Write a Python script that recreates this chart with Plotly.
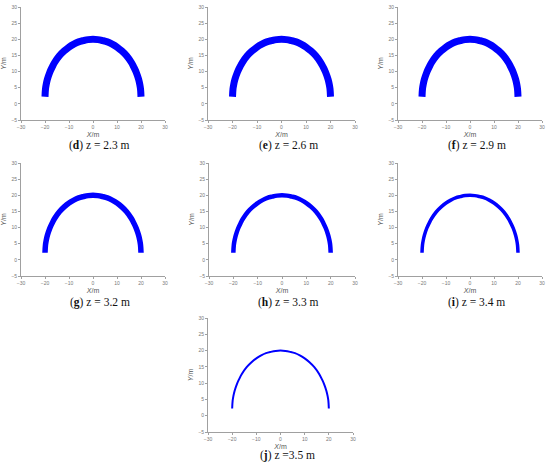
import plotly.graph_objects as go

# ---- data ----
arc_x = [-20.0, -19.8, -19.5, -19.0, -18.0, -17.0, -16.0, -14.0, -12.0, -10.0, -8.0, -6.0, -4.0, -2.0, 0.0,
         2.0, 4.0, 6.0, 8.0, 10.0, 12.0, 14.0, 16.0, 17.0, 18.0, 19.0, 19.5, 19.8, 20.0]
arc_y = [2.2, 4.6, 6.0, 7.6, 9.8, 11.4, 12.8, 14.9, 16.4, 17.6, 18.5, 19.2, 19.6, 19.9, 20.0,
         19.9, 19.6, 19.2, 18.5, 17.6, 16.4, 14.9, 12.8, 11.4, 9.8, 7.6, 6.0, 4.6, 2.2]
panel_letters = ["d", "e", "f", "g", "h", "i", "j"]
panel_z = ["= 2.3 m", "= 2.6 m", "= 2.9 m", "= 3.2 m", "= 3.3 m", "= 3.4 m", "=3.5 m"]
band_width_px = [7, 7, 7, 5.5, 4.5, 3.5, 2]
x_ticks = [-30, -20, -10, 0, 10, 20, 30]
y_ticks = [-5, 0, 5, 10, 15, 20, 25, 30]

# ---- layout (pixel boxes of each panel: left, right, top, bottom) ----
W, H = 550, 467
boxes = [(21, 165, 7, 120), (208, 355, 7, 120), (398, 542, 7, 120),
         (21, 165, 163, 276), (209, 355, 163, 276), (398, 542, 163, 276),
         (208, 353, 318, 432)]
caption_y = [145, 145, 145, 302, 302, 302, 455]

fig = go.Figure()
axis_color = "#a0a0a0"
tick_font = dict(family="Liberation Sans, Arial", size=5, color="#777777")
title_font = dict(family="Liberation Sans, Arial", size=7, color="#555555")

for i, (l, r, t, b) in enumerate(boxes):
    k = "" if i == 0 else str(i + 1)
    fig.add_trace(go.Scatter(x=arc_x, y=arc_y, mode="lines",
                             line=dict(color="#0000ff", width=band_width_px[i], shape="spline"),
                             xaxis="x" + k, yaxis="y" + k, showlegend=False, hoverinfo="skip"))
    common = dict(showline=True, linecolor=axis_color, linewidth=0.8, showgrid=False, zeroline=False,
                  ticks="outside", ticklen=2, tickcolor=axis_color, tickwidth=0.6,
                  tickfont=tick_font, automargin=False)
    fig.layout["xaxis" + k] = dict(common, domain=[l / W, r / W], range=[-30, 30],
                                   tickvals=x_ticks, anchor="y" + k,
                                   title=dict(text="<i>X</i>/m", font=title_font, standoff=3))
    fig.layout["yaxis" + k] = dict(common, domain=[1 - b / H, 1 - t / H], range=[-5, 30],
                                   tickvals=y_ticks, anchor="x" + k,
                                   title=dict(text="<i>Y</i>/m", font=title_font, standoff=3))
    fig.add_annotation(x=(l + r) / 2 / W + 0.012, y=1 - caption_y[i] / H, xref="paper", yref="paper",
                       text="(<b>%s</b>) z %s" % (panel_letters[i], panel_z[i]), showarrow=False,
                       font=dict(family="Liberation Serif, Times New Roman", size=11.5, color="#111111"),
                       xanchor="center", yanchor="middle")

fig.update_layout(width=W, height=H, margin=dict(l=0, r=0, t=0, b=0),
                  plot_bgcolor="white", paper_bgcolor="white")
fig.write_html("out.html", config={"displayModeBar": False},
               post_script="document.body.style.margin='0';document.body.style.overflow='hidden';")
